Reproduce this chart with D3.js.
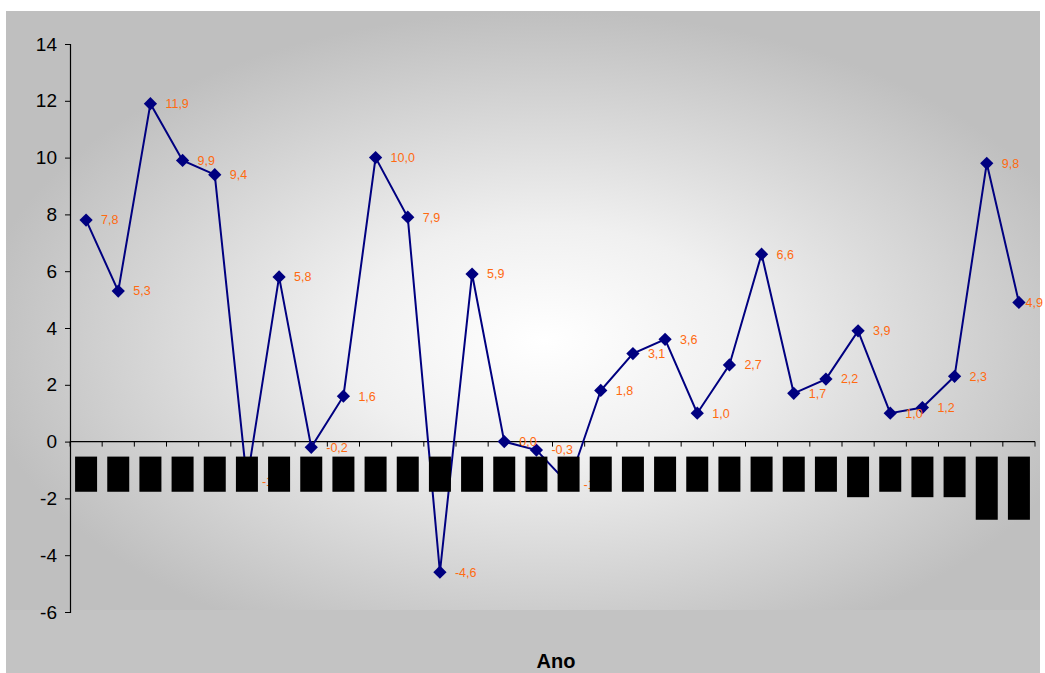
<!DOCTYPE html>
<html><head><meta charset="utf-8">
<script src="https://cdn.jsdelivr.net/npm/d3@7"></script>
<style>html,body{margin:0;padding:0;background:#fff;}svg{display:block;}</style>
</head><body>
<svg id="chart" width="1045" height="673"></svg>
<script>
// ---- data ----
const categories = ["1975","1976","1977","1978","1979","1980","1981","1982","1983","1984",
  "1985","1986","1987","1988","1989","1990","1991","1992","1993","1994",
  "1995","1996","1997","1998","1999*","2000","2001*","2002*","2003(est)","2004(est)"];
const values = [7.8,5.3,11.9,9.9,9.4,-1.4,5.8,-0.2,1.6,10.0,
  7.9,-4.6,5.9,0.0,-0.3,-1.5,1.8,3.1,3.6,1.0,
  2.7,6.6,1.7,2.2,3.9,1.0,1.2,2.3,9.8,4.9];
const yTicks = [-6,-4,-2,0,2,4,6,8,10,12,14];
const xTitle = "Ano";

const svg = d3.select("#chart");
const defs = svg.append("defs");
const grad = defs.append("radialGradient").attr("id","bg")
  .attr("cx","0.52").attr("cy","0.55").attr("r","0.55");
grad.append("stop").attr("offset","0").attr("stop-color","#ffffff");
grad.append("stop").attr("offset","0.35").attr("stop-color","#f0f0f0");
grad.append("stop").attr("offset","1").attr("stop-color","#bfbfbf");

// chart area
svg.append("rect").attr("x",6).attr("y",11).attr("width",1034).attr("height",662).attr("fill","#c3c3c3");
// plot area background
svg.append("rect").attr("x",6).attr("y",11).attr("width",1034).attr("height",599).attr("fill","url(#bg)");

const x = d3.scaleBand().domain(categories).range([70, 1035]).padding(0);
const y = d3.scaleLinear().domain([-6, 14]).range([612, 44]);
const cx = (d) => x(d) + x.bandwidth()/2;
const font = "Liberation Sans, Arial, sans-serif";

// y axis
const yAxis = svg.append("g").attr("transform","translate(70,0)")
  .call(d3.axisLeft(y).tickValues(yTicks).tickSize(5).tickPadding(8).tickFormat(d => String(d)));
yAxis.select(".domain").attr("stroke","#000").attr("stroke-width",1.2);
yAxis.selectAll(".tick line").attr("stroke","#000");
yAxis.selectAll("text").attr("font-family",font)
  .attr("font-size","19px").attr("fill","#000");

// x axis at y=0 with ticks between categories
const xg = svg.append("g").attr("transform",`translate(0,${y(0)})`);
xg.append("line").attr("x1",70).attr("x2",1035).attr("y1",0).attr("y2",0)
  .attr("stroke","#000").attr("stroke-width",1.2);
const boundaries = categories.map(c => x(c)).concat([x(categories[categories.length-1]) + x.bandwidth()]);
xg.selectAll("line.tk").data(boundaries).enter().append("line").attr("class","tk")
  .attr("x1",d=>d).attr("x2",d=>d).attr("y1",0).attr("y2",5).attr("stroke","#000").attr("stroke-width",1);

// line
const line = d3.line().x((d,i)=>cx(categories[i])).y(d=>y(d));
svg.append("path").datum(values).attr("d",line).attr("fill","none")
  .attr("stroke","#000080").attr("stroke-width",2);

// markers
const sym = d3.symbol().type(d3.symbolSquare).size(88);
svg.selectAll("path.mk").data(values).enter().append("path").attr("class","mk")
  .attr("d",sym)
  .attr("transform",(d,i)=>`translate(${cx(categories[i])},${y(d)}) rotate(45)`)
  .attr("fill","#000080");

// data labels
const fmt = v => v.toFixed(1).replace(".", ",");
svg.selectAll("text.dl").data(values).enter().append("text").attr("class","dl")
  .attr("x",(d,i)=>cx(categories[i]) + 15)
  .attr("y",d=>y(d))
  .attr("dy","0.35em")
  .attr("font-family",font)
  .attr("font-size","12.5px").attr("fill","#ff6a10")
  .text(d=>fmt(d))
  .each(function(){
    const len = this.getComputedTextLength();
    const x0 = +this.getAttribute("x");
    if (x0 + len > 1043) this.setAttribute("x", 1043 - len);
  });

// category labels (rendered on black boxes)
const catG = svg.append("g");
categories.forEach(c => {
  const g = catG.append("g");
  const t = g.append("text")
    .attr("transform",`translate(${cx(c)+5},${y(0)+17}) rotate(-90)`)
    .attr("text-anchor","end")
    .attr("font-family",font)
    .attr("font-size","14px").attr("fill","#000").text(c);
  const len = t.node().getComputedTextLength();
  g.insert("rect","text").attr("x",cx(c)-11).attr("y",y(0)+15)
    .attr("width",22).attr("height",len+4).attr("fill","#000");
});

// x title
svg.append("text").attr("x",556).attr("y",668).attr("text-anchor","middle")
  .attr("font-family",font).attr("font-weight","bold")
  .attr("font-size","20px").attr("fill","#000").text(xTitle);
</script>
</body></html>
